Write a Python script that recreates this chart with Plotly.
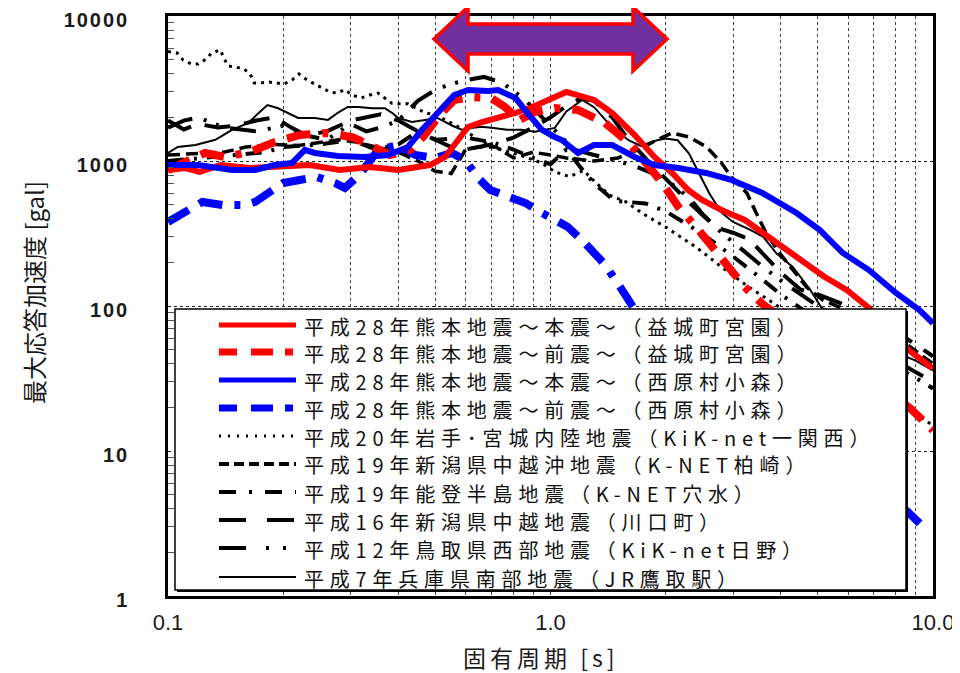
import plotly.graph_objects as go

# ---------------- data (period [s], max response acceleration [gal]) ----------------
T_r1 = [0.1, 0.111, 0.121, 0.137, 0.164, 0.196, 0.235, 0.281, 0.337, 0.40, 0.484, 0.53, 0.563, 0.609, 0.662, 0.73, 0.81, 0.897, 1.026, 1.10, 1.30, 1.45, 1.66, 1.87, 2.08, 2.29, 2.49, 2.80, 3.22, 3.58, 4.4, 5.2, 5.95, 6.8, 7.6, 8.6, 10.0]
A_r1 = [867, 895, 840, 938, 895, 924, 938, 867, 910, 867, 938, 1066, 1331, 1716, 1857, 1981, 2144, 2357, 2719, 2992, 2636, 2144, 1511, 1066, 827, 631, 538, 459, 392, 319, 218, 159, 129, 97, 72, 50, 37]

T_r2 = [0.1, 0.111, 0.125, 0.141, 0.164, 0.19, 0.221, 0.257, 0.303, 0.337, 0.38, 0.43, 0.469, 0.513, 0.56, 0.62, 0.70, 0.76, 0.83, 0.91, 1.026, 1.18, 1.27, 1.39, 1.57, 1.69, 1.96, 2.16, 2.44, 2.71, 2.92, 3.22, 3.6, 4.5, 5.5, 6.5, 7.5, 8.7, 10.0]
A_r2 = [867, 969, 1136, 1066, 1154, 1352, 1511, 1561, 1464, 1289, 1100, 1191, 1511, 2075, 2636, 2763, 2719, 2357, 1918, 2178, 2321, 2248, 2075, 1828, 1396, 1136, 705, 482, 334, 232, 186, 135, 102, 67, 47, 34, 26, 19.8, 13.9]

T_b1 = [0.1, 0.12, 0.147, 0.169, 0.19, 0.211, 0.228, 0.242, 0.278, 0.327, 0.376, 0.424, 0.461, 0.509, 0.56, 0.609, 0.686, 0.73, 0.81, 0.87, 0.95, 1.026, 1.07, 1.18, 1.30, 1.45, 1.66, 1.87, 2.16, 2.55, 2.97, 3.58, 4.4, 5.06, 5.81, 6.8, 8.0, 9.2, 10.0]
A_b1 = [938, 938, 867, 867, 938, 969, 1191, 1136, 1082, 1066, 1100, 1250, 1636, 2178, 2851, 3090, 3040, 3090, 2719, 2144, 1636, 1464, 1396, 1136, 1289, 1289, 1066, 938, 895, 827, 740, 601, 438, 334, 232, 177, 123, 94, 76]

T_b2 = [0.1, 0.111, 0.123, 0.139, 0.159, 0.169, 0.181, 0.2, 0.221, 0.245, 0.273, 0.29, 0.318, 0.354, 0.40, 0.443, 0.5, 0.552, 0.598, 0.647, 0.696, 0.773, 0.86, 0.94, 1.026, 1.11, 1.23, 1.39, 1.57, 1.66, 2.0, 3.0, 4.0, 5.0, 6.0, 7.0, 8.6, 9.5]
A_b2 = [380, 445, 522, 497, 497, 522, 583, 705, 740, 776, 705, 652, 813, 1191, 1289, 1100, 1049, 1136, 1016, 764, 631, 574, 513, 445, 392, 351, 272, 192, 119, 94, 65, 29.5, 16.8, 10.9, 7.6, 5.6, 3.8, 2.94]

T_d = [0.1, 0.1056, 0.1095, 0.115, 0.12, 0.126, 0.13, 0.137, 0.14, 0.1435, 0.15, 0.158, 0.164, 0.168, 0.174, 0.182, 0.192, 0.201, 0.211, 0.22, 0.231, 0.241, 0.253, 0.265, 0.277, 0.29, 0.303, 0.32, 0.337, 0.354, 0.369, 0.385, 0.40, 0.424, 0.448, 0.47, 0.5, 0.536, 0.58, 0.65, 0.74, 0.83, 0.94, 1.03, 1.12, 1.22, 1.32, 1.43, 1.57, 1.74, 2.0, 2.4, 2.8, 3.3, 3.8, 5.0, 6.0, 7.0, 8.5, 10.0]
A_d = [5700, 5560, 4970, 4670, 4670, 5050, 5560, 5830, 5130, 4520, 4450, 4310, 3980, 3450, 3450, 3510, 3450, 3400, 3620, 3980, 3620, 3397, 3187, 2990, 2940, 3110, 2850, 2720, 2850, 2940, 2720, 2500, 2480, 2480, 2300, 2150, 2080, 1900, 1700, 1400, 1200, 1100, 980, 840, 780, 860, 700, 580, 525, 435, 350, 255, 186, 135, 106, 65, 45, 33, 20, 15]

T_k = [0.1, 0.12, 0.14, 0.16, 0.19, 0.22, 0.25, 0.28, 0.31, 0.35, 0.40, 0.45, 0.5, 0.55, 0.6, 0.65, 0.72, 0.8, 0.9, 1.0, 1.1, 1.3, 1.5, 1.7, 1.9, 2.08, 2.3, 2.56, 2.8, 2.97, 3.26, 3.45, 3.66, 3.97, 4.3, 4.67, 5.15, 5.7, 6.5, 7.5, 8.5, 9.2, 10.0]
A_k = [1100, 1130, 1150, 1250, 1300, 1280, 1350, 1400, 1350, 1250, 1150, 1000, 850, 820, 1200, 1250, 1250, 1050, 1150, 1100, 1050, 1000, 1050, 1200, 1400, 1560, 1464, 1250, 969, 776, 601, 438, 319, 232, 177, 135, 110, 98, 80, 65, 55, 47, 40]

T_n = [0.1, 0.12, 0.15, 0.18, 0.2, 0.25, 0.3, 0.35, 0.4, 0.45, 0.5, 0.6, 0.7, 0.8, 0.9, 1.0, 1.1, 1.2, 1.3, 1.47, 1.6, 1.77, 2.0, 2.3, 2.6, 3.0, 3.5, 4.0, 5.0, 6.0, 7.0, 8.0, 9.0, 10.0]
A_n = [1000, 1050, 1100, 1150, 1250, 1300, 1400, 1200, 1300, 1600, 1400, 1450, 1350, 1200, 1050, 950, 1200, 900, 700, 530, 520, 510, 450, 360, 290, 220, 160, 120, 80, 60, 48, 38, 32, 27]

T_w = [0.1, 0.11, 0.12, 0.135, 0.15, 0.17, 0.19, 0.21, 0.23, 0.26, 0.3, 0.33, 0.36, 0.4, 0.45, 0.5, 0.55, 0.6, 0.7, 0.8, 0.9, 1.0, 1.1, 1.2, 1.3, 1.45, 1.6, 1.8, 2.0, 2.3, 2.7, 3.0, 3.3, 3.7, 4.0, 4.5, 5.0, 5.7, 7.0, 8.5, 10.0]
A_w = [1900, 1650, 1800, 1700, 1750, 1900, 2000, 1700, 1500, 1600, 1900, 2000, 2100, 1900, 1600, 1400, 1250, 1200, 1300, 1450, 1700, 2000, 2400, 2700, 2600, 2000, 1400, 1000, 750, 520, 350, 320, 290, 210, 170, 130, 120, 105, 80, 60, 45]

T_t = [0.1, 0.11, 0.12, 0.14, 0.17, 0.2, 0.23, 0.26, 0.3, 0.33, 0.36, 0.4, 0.45, 0.5, 0.55, 0.6, 0.67, 0.75, 0.85, 0.95, 1.05, 1.15, 1.3, 1.5, 1.7, 1.9, 2.1, 2.3, 2.5, 2.8, 3.2, 3.6, 4.0, 4.5, 5.0, 6.0, 7.0, 8.0, 9.0, 10.0]
A_t = [1700, 1900, 2000, 1700, 1600, 1750, 1500, 1400, 1800, 1600, 1700, 1900, 2600, 3100, 3400, 3600, 3800, 3450, 2700, 2000, 1500, 1200, 1100, 1000, 900, 800, 680, 560, 430, 320, 240, 185, 150, 120, 100, 75, 55, 42, 35, 30]

T_j = [0.1, 0.106, 0.118, 0.133, 0.147, 0.162, 0.176, 0.182, 0.194, 0.206, 0.219, 0.242, 0.262, 0.278, 0.295, 0.314, 0.342, 0.369, 0.385, 0.40, 0.434, 0.47, 0.506, 0.554, 0.588, 0.62, 0.66, 0.71, 0.77, 0.84, 0.91, 1.026, 1.1, 1.21, 1.3, 1.45, 1.6, 1.72, 1.9, 2.0, 2.15, 2.3, 2.45, 2.6, 2.8, 3.0, 3.33, 3.6, 3.9, 4.3, 4.77, 5.1, 6.0, 7.0, 8.0, 9.0, 10.0]
A_j = [1136, 1250, 1290, 1400, 1640, 1830, 2248, 2433, 2310, 2150, 1980, 1980, 1920, 2150, 2357, 2357, 2310, 2310, 2150, 1980, 1860, 1920, 1980, 1750, 1640, 1690, 1720, 1690, 1640, 1640, 1590, 1690, 2200, 2640, 2350, 1700, 1390, 1270, 1390, 1430, 1390, 1130, 820, 600, 440, 380, 335, 300, 230, 186, 130, 98, 75, 60, 48, 42, 36]

labels = [
    "平成28年熊本地震～本震～（益城町宮園）",
    "平成28年熊本地震～前震～（益城町宮園）",
    "平成28年熊本地震～本震～（西原村小森）",
    "平成28年熊本地震～前震～（西原村小森）",
    "平成20年岩手･宮城内陸地震（KiK-net一関西）",
    "平成19年新潟県中越沖地震（K-NET柏崎）",
    "平成19年能登半島地震（K-NET穴水）",
    "平成16年新潟県中越地震（川口町）",
    "平成12年鳥取県西部地震（KiK-net日野）",
    "平成7年兵庫県南部地震（JR鷹取駅）",
]
x_ticks = [0.1, 1, 10]
x_ticktext = ["0.1", "1.0", "10.0"]
y_ticks = [1, 10, 100, 1000, 10000]
y_ticktext = ["1", "10", "100", "1000", "10000"]

# ---------------- styles ----------------
RED, BLUE, BLACK = "#FF0000", "#0000FF", "#000000"
styles = [  # (color, width, plot dash, legend width, legend dash)
    (RED, 6, "solid", 5, "solid"),
    (RED, 8, "24px,12px,24px,12px,6px,12px", 7, "18px,14px,22px,12px,8px,12px"),
    (BLUE, 6, "solid", 5, "solid"),
    (BLUE, 8, "24px,12px,24px,12px,6px,12px", 7, "18px,14px,22px,12px,8px,12px"),
    (BLACK, 3, "3px,5px", 3, "2px,7px"),
    (BLACK, 3.5, "12px,6px", 4, "10px,5px"),
    (BLACK, 4, "16px,10px,3px,10px", 4, "17px,13px,3px,13px"),
    (BLACK, 4, "26px,14px", 4, "27px,21px"),
    (BLACK, 4, "26px,12px,3px,10px,3px,12px", 4, "27px,20px,3px,14px,3px,14px"),
    (BLACK, 2, "solid", 2, "solid"),
]
data = [(T_r1, A_r1), (T_r2, A_r2), (T_b1, A_b1), (T_b2, A_b2), (T_d, A_d),
        (T_k, A_k), (T_n, A_n), (T_w, A_w), (T_t, A_t), (T_j, A_j)]

fig = go.Figure()
draw_order = [4, 5, 6, 7, 8, 9, 3, 1, 0, 2]
for i in draw_order:
    t, a = data[i]
    col, w, dash, _, _ = styles[i]
    fig.add_trace(go.Scatter(x=t, y=a, mode="lines", name=labels[i],
                             line=dict(color=col, width=w, dash=dash),
                             showlegend=False, hoverinfo="skip"))

# ---------------- layout geometry (screen pixels; page body has an 8px margin) ----------------
PAGE_OFF = 8
FIG_W, FIG_H = 960 - PAGE_OFF, 673 - PAGE_OFF
L, R, TOP, BOT = 168, 933, 16, 596          # plot area in screen pixels
def px(x):
    return (x - L) / (R - L)
def py(y):
    return (BOT - y) / (BOT - TOP)

minor_x = [0.2, 0.3, 0.4, 0.5, 0.6, 0.7, 0.8, 0.9, 2, 3, 4, 5, 6, 7, 8, 9]
minor_y = [m * d for d in (1, 10, 100, 1000) for m in range(2, 10)]

shapes = []
# purple double arrow (period range 0.5 - 2.0 s)
pts = [(434, 39), (468, 7), (468, 24), (633, 24), (633, 7), (667, 39),
       (633, 71), (633, 54), (468, 54), (468, 71)]
path = "M " + " L ".join(f"{px(a):.4f},{py(b):.4f}" for a, b in pts) + " Z"
shapes.append(dict(type="path", path=path, xref="paper", yref="paper",
                   fillcolor="#7030A0", line=dict(color="#FF0000", width=3.5),
                   layer="above"))

# legend box (shadow + white box)
shapes.append(dict(type="rect", xref="paper", yref="paper",
                   x0=px(177), x1=px(908), y0=py(592), y1=py(311),
                   fillcolor="#000000", line=dict(width=0), layer="above"))
shapes.append(dict(type="rect", xref="paper", yref="paper",
                   x0=px(175), x1=px(906), y0=py(590), y1=py(309),
                   fillcolor="#FFFFFF", line=dict(color="#000000", width=1.5),
                   layer="above"))

annotations = []
row_y = [325, 352, 380, 408, 436, 464, 492, 520, 548, 577]
for i, yy in enumerate(row_y):
    col, _, _, lw, ldash = styles[i]
    shapes.append(dict(type="line", xref="paper", yref="paper",
                       x0=px(219), x1=px(296), y0=py(yy), y1=py(yy),
                       line=dict(color=col, width=lw, dash=ldash), layer="above"))
    annotations.append(dict(xref="paper", yref="paper", x=px(302), y=py(yy + 1),
                            xanchor="left", yanchor="middle", showarrow=False,
                            text=f'<span style="letter-spacing:5.8px">{labels[i]}</span>',
                            font=dict(family="Noto Sans CJK JP", size=20, color="#111111")))

# axis titles
annotations.append(dict(xref="paper", yref="paper", x=px(540), y=py(657),
                        xanchor="center", yanchor="middle", showarrow=False,
                        text='<span style="letter-spacing:4px">固有周期 [s]</span>',
                        font=dict(family="Noto Sans CJK JP", size=23, color="#1a1a1a")))
annotations.append(dict(xref="paper", yref="paper", x=px(33), y=py(293),
                        xanchor="center", yanchor="middle", showarrow=False, textangle=-90,
                        text="最大応答加速度 [gal]",
                        font=dict(family="Noto Sans CJK JP", size=24, color="#1a1a1a")))

fig.update_layout(
    width=FIG_W, height=FIG_H,
    margin=dict(l=L - PAGE_OFF, r=FIG_W - (R - PAGE_OFF), t=TOP - PAGE_OFF,
                b=FIG_H - (BOT - PAGE_OFF), autoexpand=False),
    paper_bgcolor="white", plot_bgcolor="white",
    showlegend=False,
    shapes=shapes, annotations=annotations,
    xaxis=dict(type="log", range=[-1, 1], tickvals=x_ticks, ticktext=x_ticktext,
               automargin=False, ticklabeloverflow="allow",
               showline=True, mirror=True, linecolor="black", linewidth=2.5,
               ticks="", ticklabelstandoff=5,
               tickfont=dict(family="Liberation Sans, Arial", size=22, color="#1a1a1a"),
               showgrid=True, gridcolor="#333333", griddash="dot", gridwidth=1,
               zeroline=False,
               minor=dict(tickvals=minor_x, showgrid=True, gridcolor="#444444",
                          griddash="dot", gridwidth=1, ticks="")),
    yaxis=dict(type="log", range=[0, 4], tickvals=y_ticks,
               ticktext=[f'<span style="letter-spacing:2px">{t}</span>' for t in y_ticktext],
               automargin=False, ticklabeloverflow="allow", ticklabelshift=4,
               showline=True, mirror=True, linecolor="black", linewidth=2.5,
               ticks="", ticklabelstandoff=32,
               tickfont=dict(family="Liberation Sans, Arial", size=20, color="#1a1a1a",
                             weight="bold"),
               showgrid=True, gridcolor="#222222", griddash="dot", gridwidth=1,
               zeroline=False,
               minor=dict(tickvals=minor_y, showgrid=False, ticks="inside",
                          ticklen=6, tickcolor="#555555", tickwidth=1)),
)

fig.write_html("out.html")
